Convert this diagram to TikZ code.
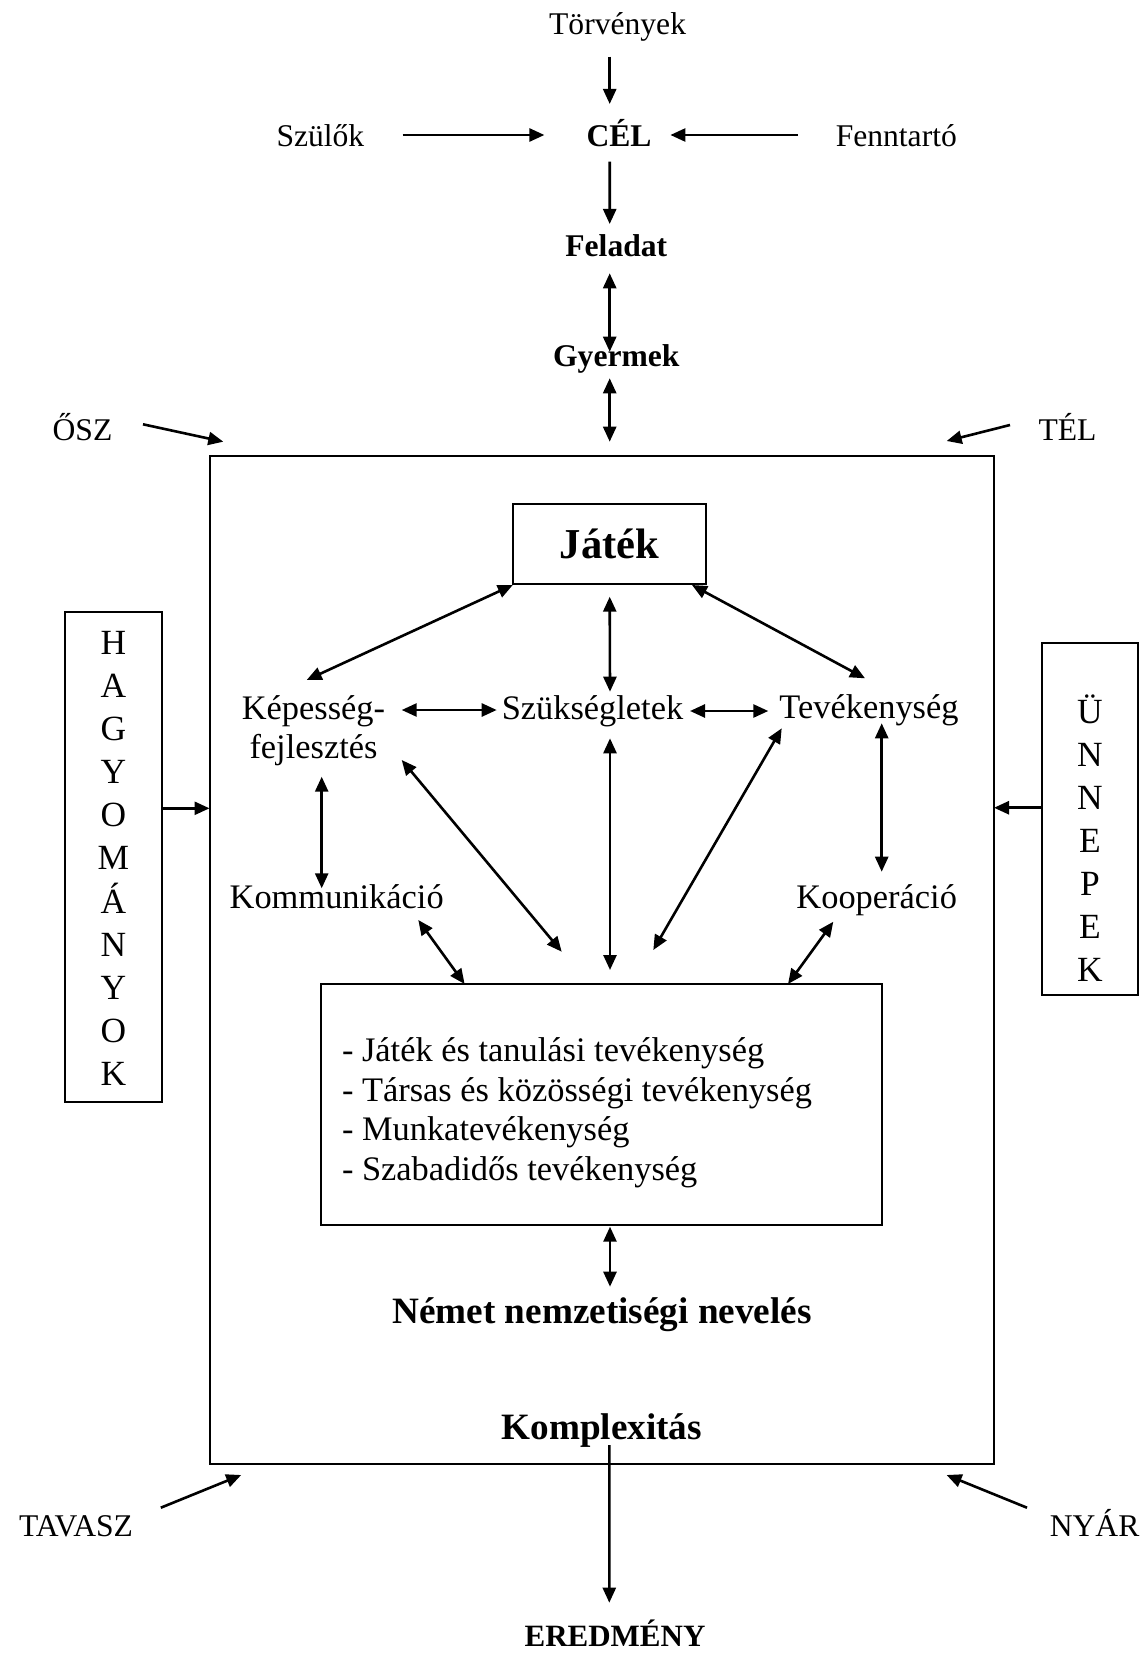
\documentclass[tikz,border=0pt]{standalone}
\usepackage{fontspec}
\setmainfont{Liberation Serif}
\usetikzlibrary{arrows.meta,calc}
\begin{document}
\begin{tikzpicture}[x=0.5pt,y=-0.5pt,
  lbl/.style={inner sep=0pt, outer sep=0pt, anchor=base, font=\fontsize{15.8}{19}\selectfont},
  blbl/.style={lbl, font=\fontsize{15.8}{19}\selectfont\bfseries},
  inl/.style={lbl, font=\fontsize{17.2}{20}\selectfont},
  frame/.style={draw, line width=1pt, inner sep=0pt, outer sep=0pt},
  arr/.style={line width=1.3pt, -{Triangle[length=7.5pt,width=6.5pt]}},
  dbl/.style={line width=1.3pt, {Triangle[length=7.5pt,width=6.5pt]}-{Triangle[length=7.5pt,width=6.5pt]}}
]
\useasboundingbox (0,0) rectangle (1146,1653);

% top labels
\node[lbl] (torv) at (617.6,34.3) {Törvények};
\node[lbl] (szul) at (320.4,146.7) {Szülők};
\node[blbl] (cel) at (619,146.7) {CÉL};
\node[lbl] (fenn) at (896.3,146.7) {Fenntartó};
\node[blbl] (fel) at (616.3,256.7) {Feladat};
\node[blbl] (gyer) at (616.3,366.7) {Gyermek};

% seasons
\node[lbl] (osz) at (82.5,440) {ŐSZ};
\node[lbl] (tel) at (1067.5,440) {TÉL};
\node[lbl] (tav) at (76,1536.7) {TAVASZ};
\node[lbl] (nyar) at (1094.6,1536.7) {NYÁR};

% frames
\node[frame, minimum width=392.25pt, minimum height=504.15pt] (keret) at (601.75,960.15) {};
\node[frame, minimum width=96.6pt, minimum height=40pt, font=\fontsize{21.3}{25}\selectfont\bfseries] (jatek) at (609.4,544) {Játék};
\node[frame, minimum width=280.35pt, minimum height=120.5pt] (actbox) at (601.35,1104.5) {};
\node[frame, minimum width=48.35pt, minimum height=245pt] (hagybox) at (113.35,856.7) {};
\node[frame, minimum width=48pt, minimum height=175.85pt] (unnbox) at (1089.7,819.15) {};

% inner labels
\node[lbl, font=\fontsize{17.2}{19.5}\selectfont] (kep) at (313.5,719.3) {\begin{tabular}[t]{@{}c@{}}Képesség-\\fejlesztés\end{tabular}};
\node[inl] (szuk) at (592.5,719.3) {Szükségletek};
\node[inl] (tev) at (869,718.3) {Tevékenység};
\node[inl] (komm) at (336.7,908.3) {Kommunikáció};
\node[inl] (koop) at (876.7,908.3) {Kooperáció};
\node[lbl, anchor=base west, font=\fontsize{17.2}{19.7}\selectfont] (acttext) at (342,1180)
  {\begin{tabular}[b]{@{}l@{}}- Játék és tanulási tevékenység\\- Társas és közösségi tevékenység\\- Munkatevékenység\\- Szabadidős tevékenység\end{tabular}};
\node[lbl, font=\fontsize{18.6}{22}\selectfont\bfseries] (nemet) at (602,1323) {Német nemzetiségi nevelés};
\node[lbl, font=\fontsize{18.6}{22}\selectfont\bfseries] (kompl) at (601.7,1439.3) {Komplexitás};
\node[lbl, font=\fontsize{15.5}{19}\selectfont\bfseries] (ered) at (615,1646.7) {EREDMÉNY};

% vertical words
\node[lbl, font=\fontsize{17.7}{21.5}\selectfont] (hagy) at (113.3,1085)
  {\begin{tabular}[b]{@{}c@{}}H\\A\\G\\Y\\O\\M\\Á\\N\\Y\\O\\K\end{tabular}};
\node[lbl, font=\fontsize{17.7}{21.5}\selectfont] (unn) at (1090,981.7)
  {\begin{tabular}[b]{@{}c@{}}Ü\\N\\N\\E\\P\\E\\K\end{tabular}};

% top arrows
\draw[arr] ($(torv.base)+(-7.9,22.4)$) -- ($(cel.base)+(-9.3,-42.7)$);
\draw[arr] ($(szul.base)+(82.2,-11.7)$) -- ($(cel.base)+(-74.6,-11.7)$);
\draw[arr] ($(fenn.base)+(-98.3,-11.7)$) -- ($(cel.base)+(51.4,-11.7)$);
\draw[arr] ($(cel.base)+(-9.3,15)$) -- ($(fel.base)+(-6.6,-32.7)$);
\draw[dbl] ($(fel.base)+(-6.6,16.6)$) -- ($(gyer.base)+(-6.6,-15)$);
\draw[dbl] ($(gyer.base)+(-6.6,11.6)$) -- ($(keret.north)+(7.95,-14.3)$);

% season arrows
\draw[arr] ($(osz.base)+(60.5,-15.7)$) -- ($(keret.north west)+(13.8,-14.3)$);
\draw[arr] ($(tel.base)+(-57.5,-15)$) -- ($(keret.north east)+(-47.3,-15)$);
\draw[arr] ($(tav.base)+(84.8,-29)$) -- ($(keret.south west)+(31.7,10.7)$);
\draw[arr] ($(nyar.base)+(-67.6,-29)$) -- ($(keret.south east)+(-47.4,10.7)$);

% side boxes
\coordinate (h1) at ($(hagybox.east)+(0,-48.4)$);
\draw[arr] (h1) -- (h1 -| keret.west);
\coordinate (u1) at ($(unnbox.west)+(0,-11.4)$);
\draw[arr] (u1) -- (u1 -| keret.east);

% inner arrows
\draw[dbl] ($(jatek.south west)+(0,1)$) -- ($(kep.base)+(-6.8,-39.3)$);
\draw[dbl] ($(jatek.south)+(0.3,12.7)$) -- ($(szuk.base)+(17.5,-27.6)$);
\draw[dbl] ($(jatek.south east)+(-14,1)$) -- ($(tev.base)+(-4,-40)$);
\draw[dbl] ($(kep.base)+(88.2,-9.3)$) -- ($(szuk.base)+(-95.8,-9.3)$);
\draw[dbl] ($(szuk.base)+(97.5,-8.3)$) -- ($(tev.base)+(-100.7,-7.3)$);
\draw[dbl] ($(kep.base)+(8.2,57.4)$) -- ($(komm.base)+(-15,-20)$);
\draw[dbl] ($(kep.base)+(88.2,40.7)$) -- ($(actbox.north)+(-39.65,-32.3)$);
\draw[dbl] ($(szuk.base)+(17.5,19)$) -- ($(actbox.north)+(8.65,-14)$);
\draw[dbl] ($(tev.base)+(-87.3,10)$) -- ($(actbox.north)+(51.95,-34)$);
\draw[dbl] ($(tev.base)+(12.7,5)$) -- ($(koop.base)+(5,-36.6)$);
\draw[dbl] ($(komm.base)+(81.6,11.7)$) -- ($(actbox.north west)+(143.6,0)$);
\draw[dbl] ($(koop.base)+(-43.4,13.4)$) -- ($(actbox.north east)+(-93.7,0)$);
\draw[dbl] ($(actbox.south)+(8.65,1.7)$) -- ($(nemet.base)+(8,-36.3)$);
\draw[arr] ($(kompl.base)+(7.6,5.7)$) -- ($(ered.base)+(-5.7,-44)$);
\end{tikzpicture}
\end{document}
